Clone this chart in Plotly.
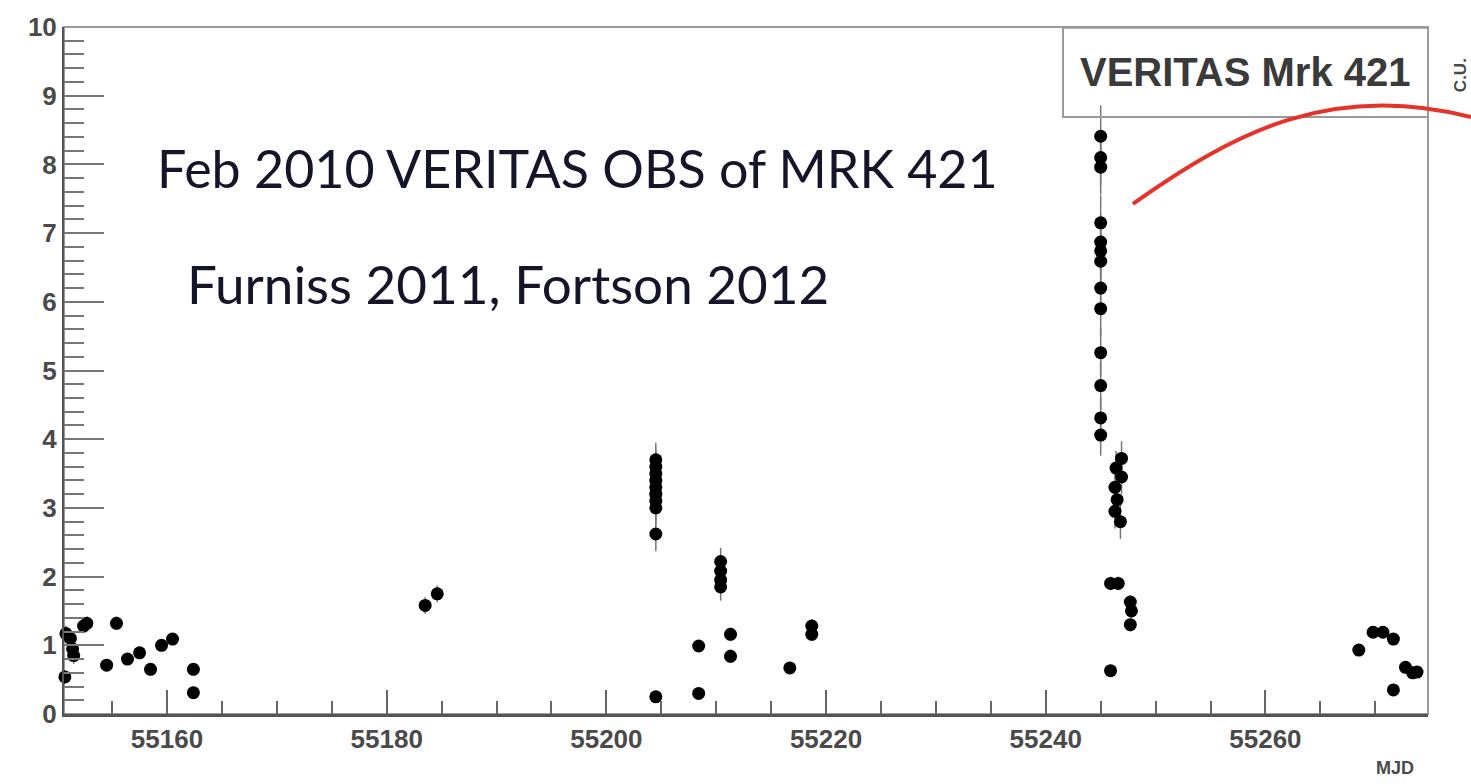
import plotly.graph_objects as go

# ---- data (MJD, flux in Crab units, error) ----
mjd = [
    55150.7, 55150.8, 55151.2, 55151.4, 55151.5, 55152.4, 55152.7,
    55154.5, 55155.4, 55156.4, 55157.5, 55158.5, 55159.5, 55160.5,
    55162.4, 55162.4,
    55183.5, 55184.6,
    55204.5, 55204.5, 55204.5, 55204.5, 55204.5, 55204.5, 55204.5, 55204.5,
    55204.5, 55204.5,
    55208.4, 55208.4,
    55210.4, 55210.4, 55210.4, 55210.4,
    55211.3, 55211.3,
    55216.7, 55218.7, 55218.7,
    55245.0, 55245.0, 55245.0, 55245.0, 55245.0, 55245.0, 55245.0, 55245.0,
    55245.0, 55245.0, 55245.0, 55245.0, 55245.0,
    55246.9, 55246.4, 55246.9, 55246.3, 55246.5, 55246.3, 55246.8,
    55245.9, 55246.6, 55247.7, 55247.8, 55247.7, 55245.9,
    55268.5, 55269.8, 55270.7, 55271.65, 55271.65, 55272.75, 55273.4, 55273.8,
]
flux = [
    0.54, 1.17, 1.10, 0.95, 0.85, 1.28, 1.32,
    0.71, 1.32, 0.80, 0.89, 0.65, 1.00, 1.09,
    0.65, 0.31,
    1.58, 1.75,
    3.70, 3.60, 3.50, 3.40, 3.30, 3.20, 3.10, 3.00,
    2.62, 0.25,
    0.99, 0.30,
    2.22, 2.08, 1.95, 1.85,
    1.16, 0.84,
    0.67, 1.28, 1.16,
    8.41, 8.10, 7.96, 7.15, 6.87, 6.74, 6.59, 6.20,
    5.90, 5.26, 4.78, 4.31, 4.06,
    3.72, 3.58, 3.45, 3.30, 3.12, 2.95, 2.80,
    1.90, 1.90, 1.63, 1.50, 1.30, 0.63,
    0.93, 1.19, 1.19, 1.09, 0.35, 0.68, 0.60, 0.61,
]
err = [
    0.10, 0.12, 0.12, 0.12, 0.12, 0.10, 0.10,
    0.08, 0.10, 0.08, 0.08, 0.08, 0.08, 0.08,
    0.08, 0.06,
    0.12, 0.12,
    0.25, 0.25, 0.25, 0.25, 0.25, 0.25, 0.25, 0.25,
    0.25, 0.06,
    0.08, 0.06,
    0.20, 0.20, 0.20, 0.20,
    0.10, 0.10,
    0.08, 0.10, 0.10,
    0.45, 0.40, 0.40, 0.40, 0.40, 0.40, 0.40, 0.40,
    0.40, 0.35, 0.35, 0.30, 0.30,
    0.25, 0.25, 0.25, 0.25, 0.25, 0.25, 0.25,
    0.10, 0.10, 0.10, 0.10, 0.10, 0.06,
    0.08, 0.08, 0.08, 0.08, 0.06, 0.08, 0.08, 0.08,
]

x_range = [55150.62, 55274.8]
y_range = [0, 10]

AXIS_FONT = "Liberation Sans Narrow, Arial Narrow, Liberation Sans, Arial, sans-serif"

fig = go.Figure()
fig.add_trace(go.Scatter(
    x=mjd, y=flux, mode="markers",
    marker=dict(color="black", size=13, line=dict(width=0)),
    error_y=dict(type="data", array=err, color="#777777", thickness=1.5, width=0),
    cliponaxis=False, showlegend=False, hoverinfo="x+y",
))

fig.update_layout(
    width=1471, height=784,
    margin=dict(l=64, r=43, t=27, b=70),
    paper_bgcolor="white", plot_bgcolor="white",
    showlegend=False,
    xaxis=dict(
        range=x_range, tickmode="linear", tick0=55160, dtick=20, tickformat="d",
        ticks="inside", ticklen=24, tickwidth=1.5, tickcolor="#666666",
        minor=dict(ticks="inside", dtick=5, tick0=55160, ticklen=13,
                   tickwidth=1.5, tickcolor="#666666", showgrid=False),
        showgrid=False, zeroline=False,
        showline=True, linecolor="#555555", linewidth=3,
        tickfont=dict(family=AXIS_FONT, size=26, color="#4a4a4a", weight="bold"),
    ),
    yaxis=dict(
        range=y_range, tickmode="linear", tick0=0, dtick=1,
        ticks="inside", ticklen=40, tickwidth=1.5, tickcolor="#777777",
        minor=dict(ticks="inside", dtick=0.2, tick0=0, ticklen=20,
                   tickwidth=1.5, tickcolor="#777777", showgrid=False),
        showgrid=False, zeroline=False,
        showline=True, linecolor="#555555", linewidth=2,
        tickfont=dict(family=AXIS_FONT, size=26, color="#4a4a4a", weight="bold"),
    ),
)

# frame (top/right in grey)
fig.add_shape(type="rect", xref="paper", yref="paper", x0=0, y0=0, x1=1, y1=1,
              line=dict(color="#9a9a9a", width=2), fillcolor="rgba(0,0,0,0)", layer="below")

# legend-like title box
fig.add_shape(type="rect", xref="paper", yref="paper", x0=0.7324, y0=0.869, x1=1.0, y1=0.999,
              line=dict(color="#9a9a9a", width=2), fillcolor="rgba(0,0,0,0)")
fig.add_annotation(xref="paper", yref="paper", x=0.866, y=0.934, xanchor="center", yanchor="middle",
                   text="VERITAS Mrk 421", showarrow=False,
                   font=dict(family=AXIS_FONT, size=40, color="#3a3a3a", weight="bold"))

# overlay texts
TXT_FONT = "Lato, Carlito, Open Sans, sans-serif"
fig.add_annotation(xref="paper", yref="paper", x=0.0667, y=0.795, xanchor="left", yanchor="middle",
                   text="Feb 2010 VERITAS OBS of MRK 421", showarrow=False,
                   font=dict(family=TXT_FONT, size=52, color="#15152a"))
fig.add_annotation(xref="paper", yref="paper", x=0.0887, y=0.627, xanchor="left", yanchor="middle",
                   text="Furniss 2011, Fortson 2012", showarrow=False,
                   font=dict(family=TXT_FONT, size=53, color="#15152a"))

# axis titles
fig.add_annotation(xref="paper", yref="paper", x=0.976, y=-0.079, xanchor="center", yanchor="middle",
                   text="MJD", showarrow=False,
                   font=dict(family=AXIS_FONT, size=18, color="#4a4a4a", weight="bold"))
fig.add_annotation(xref="paper", yref="paper", x=1.0235, y=0.93, xanchor="center", yanchor="middle",
                   text="C.U.", showarrow=False, textangle=-90,
                   font=dict(family=AXIS_FONT, size=17, color="#4a4a4a", weight="bold"))

# red hand-drawn curve overlay
fig.add_shape(type="path", xref="paper", yref="paper",
              path="M 0.7837,0.7424 C 0.86,0.85 0.93,0.92 1.0315,0.869",
              line=dict(color="#e5332a", width=4))

fig.write_html("out.html", config={"displayModeBar": False},
               post_script="document.body.style.margin='0';")
